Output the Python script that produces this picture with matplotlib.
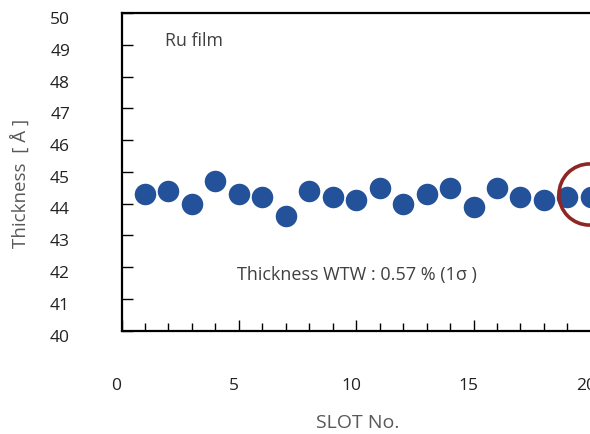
import matplotlib
matplotlib.use("Agg")
import matplotlib.pyplot as plt
import matplotlib.transforms as mtransforms
from matplotlib.ticker import MultipleLocator

plt.rcParams['font.family'] = ['Open Sans', 'DejaVu Sans']

slots = list(range(1, 21))
thickness = [44.3, 44.4, 44.0, 44.7, 44.3, 44.2, 43.6, 44.4, 44.2, 44.1,
             44.5, 44.0, 44.3, 44.5, 43.9, 44.5, 44.2, 44.1, 44.2, 44.2]
x_ticks = [0, 5, 10, 15, 20]
y_ticks = list(range(40, 51))
highlight_x = 19.9
highlight_y = 44.3

W, H = 590, 434
fig = plt.figure(figsize=(W / 100, H / 100), dpi=100)
left_px, bottom_px, top_px = 121.5, 330.5, 13
px_per_slot = 23.47
xmax = 21
ax = fig.add_axes([left_px / W, (H - bottom_px) / H,
                   xmax * px_per_slot / W, (bottom_px - top_px) / H])

ax.plot(slots, thickness, linestyle='none', marker='o', markersize=15.5,
        color='#23529A', markeredgewidth=0, zorder=3)
ax.plot([highlight_x], [highlight_y], linestyle='none', marker='o',
        markersize=44, markerfacecolor='none', markeredgecolor='#8E2626',
        markeredgewidth=2.6, zorder=4, clip_on=False)

ax.set_xlim(0, xmax)
ax.set_ylim(40, 50)
ax.set_xticks(x_ticks)
ax.xaxis.set_minor_locator(MultipleLocator(1))
ax.set_yticks(y_ticks)

for s in ax.spines.values():
    s.set_linewidth(1.6)
    s.set_color('black')

ax.tick_params(axis='x', which='major', direction='in', length=8, width=1.0,
               pad=34, labelsize=12.5, labelcolor='#222222')
ax.tick_params(axis='x', which='minor', direction='in', length=5.5, width=1.0)
ax.tick_params(axis='y', which='major', direction='in', length=8, width=1.0,
               pad=37, labelsize=12.5, labelcolor='#222222')

off_x = mtransforms.ScaledTranslation(-5 / 100, 0, fig.dpi_scale_trans)
for lab in ax.get_xticklabels():
    lab.set_transform(lab.get_transform() + off_x)
off_y = mtransforms.ScaledTranslation(0, -5 / 100, fig.dpi_scale_trans)
for lab in ax.get_yticklabels():
    lab.set_transform(lab.get_transform() + off_y)
    lab.set_horizontalalignment('right')

ax.text(1.85, 49.13, 'Ru film', fontsize=12.8, color='#404040',
        ha='left', va='center')
ax.text(4.92, 41.74, 'Thickness WTW : 0.57 % (1σ )', fontsize=13,
        color='#404040', ha='left', va='center')

fig.text(358 / W, 1 - 432.5 / H, 'SLOT No.', fontsize=14, color='#595959',
         ha='center', va='bottom')
fig.text(20 / W, 1 - 183 / H, 'Thickness  [ Å ]', fontsize=13.5,
         color='#595959', ha='center', va='center', rotation=90)

fig.savefig('out.png', dpi=100)
